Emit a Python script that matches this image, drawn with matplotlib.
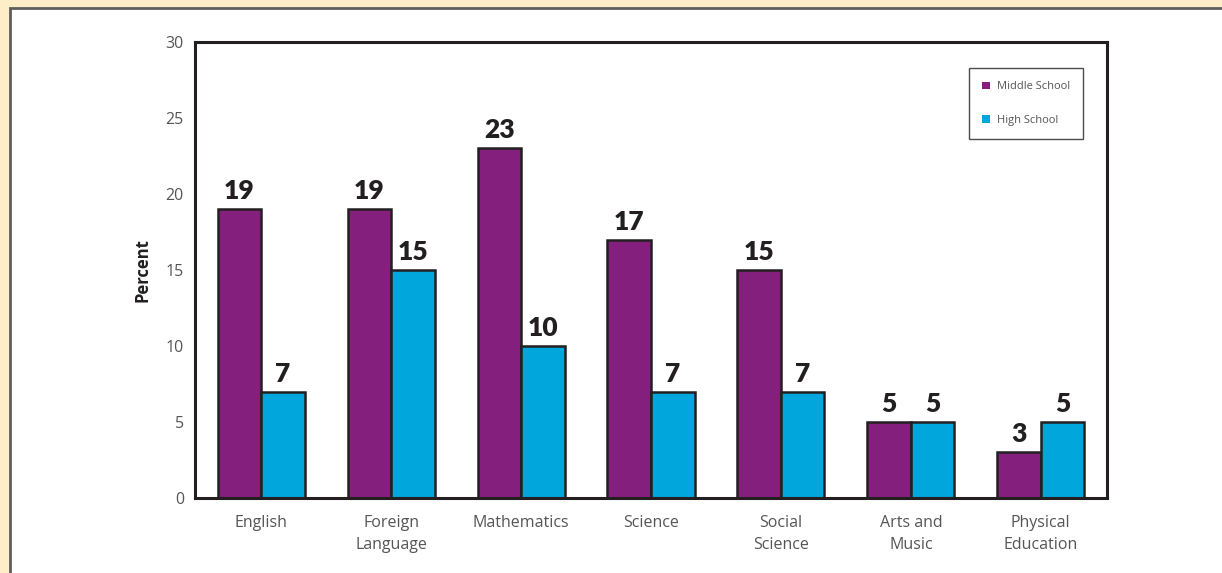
import numpy as np
import matplotlib.pyplot as plt
from matplotlib.patches import Rectangle

categories = ['English', 'Foreign\nLanguage', 'Mathematics', 'Science',
              'Social\nScience', 'Arts and\nMusic', 'Physical\nEducation']
middle_school = [19, 19, 23, 17, 15, 5, 3]
high_school = [7, 15, 10, 7, 7, 5, 5]
yticks = [0, 5, 10, 15, 20, 25, 30]

purple = '#841F7E'
blue = '#00A6DC'

fig = plt.figure(figsize=(12.22, 5.73), dpi=100)
fig.patch.set_facecolor('#FDEEC8')

# white panel with grey border
panel = Rectangle((10 / 1222, -0.05), 1.1, 1 - 8 / 573 + 0.05,
                  transform=fig.transFigure, facecolor='white',
                  edgecolor='#5E5E5E', linewidth=2, zorder=-5)
fig.add_artist(panel)

ax = fig.add_axes([195 / 1222, 1 - 498 / 573, 912 / 1222, 456 / 573])
ax.set_facecolor('none')

x = np.arange(len(categories))
w = 0.335
b1 = ax.bar(x - w / 2, middle_school, w, color=purple, edgecolor='#231F20',
            linewidth=1.8, label='Middle School', zorder=2)
b2 = ax.bar(x + w / 2, high_school, w, color=blue, edgecolor='#231F20',
            linewidth=1.8, label='High School', zorder=2)

for bars, vals in ((b1, middle_school), (b2, high_school)):
    for bar, v in zip(bars, vals):
        ax.text(bar.get_x() + bar.get_width() / 2, v + 0.4, str(v),
                ha='center', va='bottom', fontsize=19, fontweight='heavy',
                family='Lato', color='#231F20')

ax.set_xlim(-0.51, 6.51)
ax.set_ylim(0, 30)
ax.set_yticks(yticks)
ax.set_xticks(x)
ax.set_xticklabels(categories, fontsize=11.5, color='#555555',
                   family='Open Sans', linespacing=1.5)
ax.set_yticklabels([str(t) for t in yticks], fontsize=11.5, color='#555555',
                   family='Open Sans')
ax.tick_params(length=0, pad=8)
ax.tick_params(axis='x', pad=12)
for s in ax.spines.values():
    s.set_linewidth(2.2)
    s.set_color('#231F20')

ax.set_ylabel('Percent', fontsize=12, fontweight='bold', family='Open Sans',
              color='#231F20', labelpad=10)

leg = ax.legend(loc='upper right', bbox_to_anchor=((1083 - 195) / 912, 1 - 26 / 456),
                borderaxespad=0, frameon=True, fancybox=False, handlelength=0.7,
                handleheight=0.7, borderpad=1.2, labelspacing=2.0,
                handletextpad=0.6, prop={'family': 'Open Sans', 'size': 8})
leg.get_frame().set_edgecolor('#231F20')
leg.get_frame().set_linewidth(1.0)
for h in leg.legend_handles:
    h.set_linewidth(0)
for t in leg.get_texts():
    t.set_color('#555555')

fig.savefig('out.png', dpi=100, facecolor=fig.get_facecolor())
